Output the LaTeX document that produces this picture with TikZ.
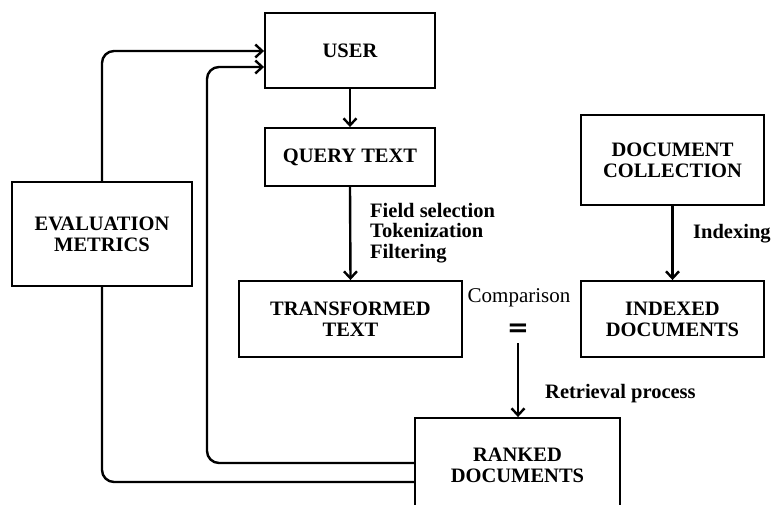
\documentclass[tikz,border=0pt]{standalone}
\usepackage{fontspec}
\setmainfont{Liberation Serif}
\newfontfamily\eqfont{DejaVu Sans}
\usetikzlibrary{arrows.meta,calc}
\begin{document}
\begin{tikzpicture}[x=1pt,y=-1pt,
  box/.style={draw, line width=1.9pt, rectangle, align=center, inner sep=0pt,
    font=\fontsize{20.5}{21}\selectfont\bfseries},
  arr/.style={line width=2.4pt, -{Straight Barb[length=7pt,width=13pt,line width=2.4pt]}},
  conn/.style={line width=2.4pt, rounded corners=12pt},
  lbl/.style={font=\fontsize{20.5}{20.5}\selectfont\bfseries, align=left, inner sep=0pt}]
\useasboundingbox (0,0) rectangle (772,504);
\fill[white] (0,0) rectangle (772,504);
\node[box, minimum width=170pt, minimum height=75pt] (user) at (350,50.5) {USER};
\node[box, minimum width=170pt, minimum height=58pt] (query) at (350,157) {QUERY TEXT};
\node[box, minimum width=223pt, minimum height=76pt] (trans) at (350.5,319) {TRANSFORMED\\TEXT};
\node[box, minimum width=180pt, minimum height=104pt] (eval) at (102,234) {EVALUATION\\METRICS};
\node[box, minimum width=183pt, minimum height=90pt] (doc) at (672.5,160) {DOCUMENT\\COLLECTION};
\node[box, minimum width=183pt, minimum height=76pt] (idx) at (672.5,319) {INDEXED\\DOCUMENTS};
\node[box, minimum width=205pt, minimum height=94pt] (rank) at (517.5,465) {RANKED\\DOCUMENTS};
\node[lbl, anchor=west] (fs) at (370,233) {Field selection\\Tokenization\\Filtering};
\node[lbl, anchor=west] (ix) at (693,234) {Indexing};
\node[lbl, anchor=west] (rp) at (545,394) {Retrieval process};
\node[font=\fontsize{21}{22}\selectfont, inner sep=0pt] (cmp) at (519,298) {Comparison};
\node[font=\eqfont\fontsize{26}{26}\selectfont\bfseries, inner sep=0pt] (eq) at (518,330) {=};
\coordinate (c1) at (102,51);
\coordinate (c2) at (207,67);
\coordinate (c3) at (102,482);
\coordinate (c4) at (207,463);
\coordinate (eqb) at (518,343);
\draw[arr] (user.south) -- (query.north);
\draw[arr] (query.south) -- (trans.north);
\draw[arr] (doc.south) -- (idx.north);
\draw[arr] (eqb) -- (rank.north -| eqb);
\draw[arr, rounded corners=12pt] (eval.north) -- (c1) -- (user.west |- c1);
\draw[arr, rounded corners=12pt] (rank.west |- c4) -- (c4) -- (c2) -- (user.west |- c2);
\draw[conn] (eval.south) -- (c3) -- (rank.west |- c3);
\end{tikzpicture}
\end{document}
